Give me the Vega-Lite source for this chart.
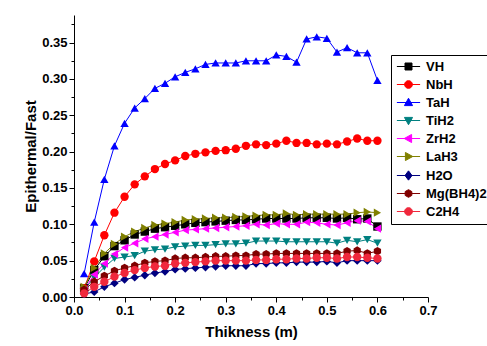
{
"$schema": "https://vega.github.io/schema/vega-lite/v6.json",
"width": 354, "height": 282,
"autosize": {"type": "none"},
"padding": {"left": 74, "top": 15, "right": 59, "bottom": 49},
"background": "white",
"config": {"view": {"stroke": null}, "font": "Liberation Sans"},
"data": {"values": [
{"m":"VH","t":0.02,"r":0.012},{"m":"VH","t":0.04,"r":0.037},{"m":"VH","t":0.06,"r":0.056},{"m":"VH","t":0.08,"r":0.070},{"m":"VH","t":0.10,"r":0.078},{"m":"VH","t":0.12,"r":0.086},{"m":"VH","t":0.14,"r":0.090},{"m":"VH","t":0.16,"r":0.094},{"m":"VH","t":0.18,"r":0.096},{"m":"VH","t":0.20,"r":0.098},{"m":"VH","t":0.22,"r":0.100},{"m":"VH","t":0.24,"r":0.102},{"m":"VH","t":0.26,"r":0.103},{"m":"VH","t":0.28,"r":0.104},{"m":"VH","t":0.30,"r":0.105},{"m":"VH","t":0.32,"r":0.106},{"m":"VH","t":0.34,"r":0.106},{"m":"VH","t":0.36,"r":0.107},{"m":"VH","t":0.38,"r":0.108},{"m":"VH","t":0.40,"r":0.108},{"m":"VH","t":0.42,"r":0.108},{"m":"VH","t":0.44,"r":0.108},{"m":"VH","t":0.46,"r":0.109},{"m":"VH","t":0.48,"r":0.109},{"m":"VH","t":0.50,"r":0.109},{"m":"VH","t":0.52,"r":0.108},{"m":"VH","t":0.54,"r":0.109},{"m":"VH","t":0.56,"r":0.107},{"m":"VH","t":0.58,"r":0.108},{"m":"VH","t":0.60,"r":0.097},
{"m":"NbH","t":0.02,"r":0.012},{"m":"NbH","t":0.04,"r":0.049},{"m":"NbH","t":0.06,"r":0.085},{"m":"NbH","t":0.08,"r":0.116},{"m":"NbH","t":0.10,"r":0.138},{"m":"NbH","t":0.12,"r":0.155},{"m":"NbH","t":0.14,"r":0.166},{"m":"NbH","t":0.16,"r":0.176},{"m":"NbH","t":0.18,"r":0.183},{"m":"NbH","t":0.20,"r":0.188},{"m":"NbH","t":0.22,"r":0.194},{"m":"NbH","t":0.24,"r":0.197},{"m":"NbH","t":0.26,"r":0.199},{"m":"NbH","t":0.28,"r":0.201},{"m":"NbH","t":0.30,"r":0.202},{"m":"NbH","t":0.32,"r":0.204},{"m":"NbH","t":0.34,"r":0.208},{"m":"NbH","t":0.36,"r":0.210},{"m":"NbH","t":0.38,"r":0.209},{"m":"NbH","t":0.40,"r":0.211},{"m":"NbH","t":0.42,"r":0.215},{"m":"NbH","t":0.44,"r":0.212},{"m":"NbH","t":0.46,"r":0.212},{"m":"NbH","t":0.48,"r":0.210},{"m":"NbH","t":0.50,"r":0.211},{"m":"NbH","t":0.52,"r":0.210},{"m":"NbH","t":0.54,"r":0.214},{"m":"NbH","t":0.56,"r":0.218},{"m":"NbH","t":0.58,"r":0.215},{"m":"NbH","t":0.60,"r":0.215},
{"m":"TaH","t":0.02,"r":0.032},{"m":"TaH","t":0.04,"r":0.103},{"m":"TaH","t":0.06,"r":0.162},{"m":"TaH","t":0.08,"r":0.208},{"m":"TaH","t":0.10,"r":0.239},{"m":"TaH","t":0.12,"r":0.260},{"m":"TaH","t":0.14,"r":0.273},{"m":"TaH","t":0.16,"r":0.287},{"m":"TaH","t":0.18,"r":0.294},{"m":"TaH","t":0.20,"r":0.303},{"m":"TaH","t":0.22,"r":0.309},{"m":"TaH","t":0.24,"r":0.314},{"m":"TaH","t":0.26,"r":0.320},{"m":"TaH","t":0.28,"r":0.322},{"m":"TaH","t":0.30,"r":0.322},{"m":"TaH","t":0.32,"r":0.322},{"m":"TaH","t":0.34,"r":0.325},{"m":"TaH","t":0.36,"r":0.325},{"m":"TaH","t":0.38,"r":0.325},{"m":"TaH","t":0.40,"r":0.333},{"m":"TaH","t":0.42,"r":0.331},{"m":"TaH","t":0.44,"r":0.323},{"m":"TaH","t":0.46,"r":0.355},{"m":"TaH","t":0.48,"r":0.358},{"m":"TaH","t":0.50,"r":0.356},{"m":"TaH","t":0.52,"r":0.337},{"m":"TaH","t":0.54,"r":0.343},{"m":"TaH","t":0.56,"r":0.336},{"m":"TaH","t":0.58,"r":0.336},{"m":"TaH","t":0.60,"r":0.298},
{"m":"TiH2","t":0.02,"r":0.010},{"m":"TiH2","t":0.04,"r":0.027},{"m":"TiH2","t":0.06,"r":0.041},{"m":"TiH2","t":0.08,"r":0.053},{"m":"TiH2","t":0.10,"r":0.055},{"m":"TiH2","t":0.12,"r":0.057},{"m":"TiH2","t":0.14,"r":0.063},{"m":"TiH2","t":0.16,"r":0.065},{"m":"TiH2","t":0.18,"r":0.066},{"m":"TiH2","t":0.20,"r":0.069},{"m":"TiH2","t":0.22,"r":0.070},{"m":"TiH2","t":0.24,"r":0.071},{"m":"TiH2","t":0.26,"r":0.071},{"m":"TiH2","t":0.28,"r":0.072},{"m":"TiH2","t":0.30,"r":0.073},{"m":"TiH2","t":0.32,"r":0.073},{"m":"TiH2","t":0.34,"r":0.074},{"m":"TiH2","t":0.36,"r":0.077},{"m":"TiH2","t":0.38,"r":0.077},{"m":"TiH2","t":0.40,"r":0.077},{"m":"TiH2","t":0.42,"r":0.076},{"m":"TiH2","t":0.44,"r":0.076},{"m":"TiH2","t":0.46,"r":0.076},{"m":"TiH2","t":0.48,"r":0.076},{"m":"TiH2","t":0.50,"r":0.076},{"m":"TiH2","t":0.52,"r":0.074},{"m":"TiH2","t":0.54,"r":0.078},{"m":"TiH2","t":0.56,"r":0.076},{"m":"TiH2","t":0.58,"r":0.079},{"m":"TiH2","t":0.60,"r":0.074},
{"m":"ZrH2","t":0.02,"r":0.010},{"m":"ZrH2","t":0.04,"r":0.031},{"m":"ZrH2","t":0.06,"r":0.046},{"m":"ZrH2","t":0.08,"r":0.059},{"m":"ZrH2","t":0.10,"r":0.068},{"m":"ZrH2","t":0.12,"r":0.074},{"m":"ZrH2","t":0.14,"r":0.080},{"m":"ZrH2","t":0.16,"r":0.083},{"m":"ZrH2","t":0.18,"r":0.086},{"m":"ZrH2","t":0.20,"r":0.089},{"m":"ZrH2","t":0.22,"r":0.092},{"m":"ZrH2","t":0.24,"r":0.093},{"m":"ZrH2","t":0.26,"r":0.094},{"m":"ZrH2","t":0.28,"r":0.095},{"m":"ZrH2","t":0.30,"r":0.096},{"m":"ZrH2","t":0.32,"r":0.097},{"m":"ZrH2","t":0.34,"r":0.098},{"m":"ZrH2","t":0.36,"r":0.100},{"m":"ZrH2","t":0.38,"r":0.099},{"m":"ZrH2","t":0.40,"r":0.101},{"m":"ZrH2","t":0.42,"r":0.100},{"m":"ZrH2","t":0.44,"r":0.100},{"m":"ZrH2","t":0.46,"r":0.103},{"m":"ZrH2","t":0.48,"r":0.102},{"m":"ZrH2","t":0.50,"r":0.100},{"m":"ZrH2","t":0.52,"r":0.099},{"m":"ZrH2","t":0.54,"r":0.102},{"m":"ZrH2","t":0.56,"r":0.105},{"m":"ZrH2","t":0.58,"r":0.104},{"m":"ZrH2","t":0.60,"r":0.094},
{"m":"LaH3","t":0.02,"r":0.014},{"m":"LaH3","t":0.04,"r":0.040},{"m":"LaH3","t":0.06,"r":0.060},{"m":"LaH3","t":0.08,"r":0.073},{"m":"LaH3","t":0.10,"r":0.083},{"m":"LaH3","t":0.12,"r":0.090},{"m":"LaH3","t":0.14,"r":0.095},{"m":"LaH3","t":0.16,"r":0.099},{"m":"LaH3","t":0.18,"r":0.101},{"m":"LaH3","t":0.20,"r":0.103},{"m":"LaH3","t":0.22,"r":0.106},{"m":"LaH3","t":0.24,"r":0.107},{"m":"LaH3","t":0.26,"r":0.108},{"m":"LaH3","t":0.28,"r":0.109},{"m":"LaH3","t":0.30,"r":0.109},{"m":"LaH3","t":0.32,"r":0.110},{"m":"LaH3","t":0.34,"r":0.111},{"m":"LaH3","t":0.36,"r":0.112},{"m":"LaH3","t":0.38,"r":0.113},{"m":"LaH3","t":0.40,"r":0.113},{"m":"LaH3","t":0.42,"r":0.115},{"m":"LaH3","t":0.44,"r":0.113},{"m":"LaH3","t":0.46,"r":0.114},{"m":"LaH3","t":0.48,"r":0.114},{"m":"LaH3","t":0.50,"r":0.114},{"m":"LaH3","t":0.52,"r":0.114},{"m":"LaH3","t":0.54,"r":0.114},{"m":"LaH3","t":0.56,"r":0.116},{"m":"LaH3","t":0.58,"r":0.117},{"m":"LaH3","t":0.60,"r":0.116},
{"m":"H2O","t":0.02,"r":0.004},{"m":"H2O","t":0.04,"r":0.007},{"m":"H2O","t":0.06,"r":0.014},{"m":"H2O","t":0.08,"r":0.019},{"m":"H2O","t":0.10,"r":0.024},{"m":"H2O","t":0.12,"r":0.027},{"m":"H2O","t":0.14,"r":0.030},{"m":"H2O","t":0.16,"r":0.033},{"m":"H2O","t":0.18,"r":0.035},{"m":"H2O","t":0.20,"r":0.038},{"m":"H2O","t":0.22,"r":0.039},{"m":"H2O","t":0.24,"r":0.040},{"m":"H2O","t":0.26,"r":0.041},{"m":"H2O","t":0.28,"r":0.042},{"m":"H2O","t":0.30,"r":0.043},{"m":"H2O","t":0.32,"r":0.043},{"m":"H2O","t":0.34,"r":0.043},{"m":"H2O","t":0.36,"r":0.046},{"m":"H2O","t":0.38,"r":0.046},{"m":"H2O","t":0.40,"r":0.047},{"m":"H2O","t":0.42,"r":0.047},{"m":"H2O","t":0.44,"r":0.048},{"m":"H2O","t":0.46,"r":0.048},{"m":"H2O","t":0.48,"r":0.048},{"m":"H2O","t":0.50,"r":0.049},{"m":"H2O","t":0.52,"r":0.047},{"m":"H2O","t":0.54,"r":0.050},{"m":"H2O","t":0.56,"r":0.050},{"m":"H2O","t":0.58,"r":0.050},{"m":"H2O","t":0.60,"r":0.050},
{"m":"Mg(BH4)2","t":0.02,"r":0.010},{"m":"Mg(BH4)2","t":0.04,"r":0.021},{"m":"Mg(BH4)2","t":0.06,"r":0.029},{"m":"Mg(BH4)2","t":0.08,"r":0.036},{"m":"Mg(BH4)2","t":0.10,"r":0.040},{"m":"Mg(BH4)2","t":0.12,"r":0.043},{"m":"Mg(BH4)2","t":0.14,"r":0.047},{"m":"Mg(BH4)2","t":0.16,"r":0.049},{"m":"Mg(BH4)2","t":0.18,"r":0.050},{"m":"Mg(BH4)2","t":0.20,"r":0.053},{"m":"Mg(BH4)2","t":0.22,"r":0.054},{"m":"Mg(BH4)2","t":0.24,"r":0.054},{"m":"Mg(BH4)2","t":0.26,"r":0.055},{"m":"Mg(BH4)2","t":0.28,"r":0.056},{"m":"Mg(BH4)2","t":0.30,"r":0.056},{"m":"Mg(BH4)2","t":0.32,"r":0.057},{"m":"Mg(BH4)2","t":0.34,"r":0.057},{"m":"Mg(BH4)2","t":0.36,"r":0.059},{"m":"Mg(BH4)2","t":0.38,"r":0.059},{"m":"Mg(BH4)2","t":0.40,"r":0.060},{"m":"Mg(BH4)2","t":0.42,"r":0.060},{"m":"Mg(BH4)2","t":0.44,"r":0.060},{"m":"Mg(BH4)2","t":0.46,"r":0.060},{"m":"Mg(BH4)2","t":0.48,"r":0.060},{"m":"Mg(BH4)2","t":0.50,"r":0.060},{"m":"Mg(BH4)2","t":0.52,"r":0.060},{"m":"Mg(BH4)2","t":0.54,"r":0.063},{"m":"Mg(BH4)2","t":0.56,"r":0.064},{"m":"Mg(BH4)2","t":0.58,"r":0.060},{"m":"Mg(BH4)2","t":0.60,"r":0.063},
{"m":"C2H4","t":0.02,"r":0.005},{"m":"C2H4","t":0.04,"r":0.014},{"m":"C2H4","t":0.06,"r":0.021},{"m":"C2H4","t":0.08,"r":0.028},{"m":"C2H4","t":0.10,"r":0.033},{"m":"C2H4","t":0.12,"r":0.037},{"m":"C2H4","t":0.14,"r":0.040},{"m":"C2H4","t":0.16,"r":0.042},{"m":"C2H4","t":0.18,"r":0.043},{"m":"C2H4","t":0.20,"r":0.046},{"m":"C2H4","t":0.22,"r":0.047},{"m":"C2H4","t":0.24,"r":0.048},{"m":"C2H4","t":0.26,"r":0.049},{"m":"C2H4","t":0.28,"r":0.050},{"m":"C2H4","t":0.30,"r":0.050},{"m":"C2H4","t":0.32,"r":0.050},{"m":"C2H4","t":0.34,"r":0.050},{"m":"C2H4","t":0.36,"r":0.051},{"m":"C2H4","t":0.38,"r":0.051},{"m":"C2H4","t":0.40,"r":0.052},{"m":"C2H4","t":0.42,"r":0.052},{"m":"C2H4","t":0.44,"r":0.053},{"m":"C2H4","t":0.46,"r":0.053},{"m":"C2H4","t":0.48,"r":0.054},{"m":"C2H4","t":0.50,"r":0.054},{"m":"C2H4","t":0.52,"r":0.053},{"m":"C2H4","t":0.54,"r":0.055},{"m":"C2H4","t":0.56,"r":0.055},{"m":"C2H4","t":0.58,"r":0.054},{"m":"C2H4","t":0.60,"r":0.053}
]},
"encoding": {
  "x": {"field": "t", "type": "quantitative",
    "scale": {"domain": [0, 0.7], "nice": false, "zero": false},
    "axis": {"title": "Thikness (m)", "grid": false,
      "values": [0,0.05,0.1,0.15,0.2,0.25,0.3,0.35,0.4,0.45,0.5,0.55,0.6,0.65,0.7],
      "labelExpr": "abs(datum.value*10 - round(datum.value*10)) < 0.001 ? format(datum.value, '.1f') : ''",
      "tickSize": {"condition": {"test": "abs(datum.value*10 - round(datum.value*10)) < 0.001", "value": 5}, "value": 3},
      "labelOverlap": false, "labelFlush": false,
      "domainColor": "black", "tickColor": "black", "domainWidth": 1, "tickWidth": 1,
      "labelFont": "Liberation Sans", "labelFontSize": 13, "labelFontWeight": "bold", "labelColor": "black", "labelPadding": 2,
      "titleFont": "Liberation Sans", "titleFontSize": 15, "titleFontWeight": "bold", "titleColor": "black", "titlePadding": 7}},
  "y": {"field": "r", "type": "quantitative",
    "scale": {"domain": [0, 0.388], "nice": false},
    "axis": {"title": "Epithermal/Fast", "grid": false,
      "values": [0,0.025,0.05,0.075,0.1,0.125,0.15,0.175,0.2,0.225,0.25,0.275,0.3,0.325,0.35,0.375],
      "labelExpr": "abs(datum.value*20 - round(datum.value*20)) < 0.001 ? format(datum.value, '.2f') : ''",
      "tickSize": {"condition": {"test": "abs(datum.value*20 - round(datum.value*20)) < 0.001", "value": 5}, "value": 3},
      "labelOverlap": false, "labelFlush": false,
      "domainColor": "black", "tickColor": "black", "domainWidth": 1, "tickWidth": 1,
      "labelFont": "Liberation Sans", "labelFontSize": 13, "labelFontWeight": "bold", "labelColor": "black", "labelPadding": 2,
      "titleFont": "Liberation Sans", "titleFontSize": 15, "titleFontWeight": "bold", "titleColor": "black", "titlePadding": 3}}
},
"resolve": {"scale": {"color": "independent", "shape": "independent", "stroke": "independent"},
            "legend": {"color": "independent", "shape": "independent", "stroke": "independent"}},
"layer": [
  {"mark": {"type": "line", "strokeWidth": 1},
   "encoding": {"color": {"field": "m", "type": "nominal", "legend": null,
     "scale": {"domain": ["VH","NbH","TaH","TiH2","ZrH2","LaH3","H2O","Mg(BH4)2","C2H4"],
               "range": ["#000000","#FF0000","#0000FF","#008080","#FF00FF","#808000","#000080","#800000","#F0283C"]}}}},
  {"mark": {"type": "point", "filled": true, "size": 70, "opacity": 1},
   "encoding": {
     "color": {"field": "m", "type": "nominal", "legend": null,
       "scale": {"domain": ["VH","NbH","TaH","TiH2","ZrH2","LaH3","H2O","Mg(BH4)2","C2H4"],
                 "range": ["#000000","#FF0000","#0000FF","#008080","#FF00FF","#808000","#000080","#800000","#F0283C"]}},
     "shape": {"field": "m", "type": "nominal", "legend": null,
       "scale": {"domain": ["VH","NbH","TaH","TiH2","ZrH2","LaH3","H2O","Mg(BH4)2","C2H4"],
                 "range": ["square","circle","triangle-up","triangle-down","triangle-left","triangle-right","diamond","M0,-1L0.866,-0.5L0.866,0.5L0,1L-0.866,0.5L-0.866,-0.5Z","circle"]}}}},
  {"mark": {"type": "point", "filled": true, "size": 60, "opacity": 0, "strokeWidth": 1},
   "encoding": {
     "color": {"field": "m", "type": "nominal",
       "scale": {"domain": ["VH","NbH","TaH","TiH2","ZrH2","LaH3","H2O","Mg(BH4)2","C2H4"],
                 "range": ["#000000","#FF0000","#0000FF","#008080","#FF00FF","#808000","#000080","#800000","#F0283C"]},
       "legend": {"title": null, "orient": "none", "legendX": 317, "legendY": 40,
         "strokeColor": "black", "fillColor": "white", "padding": 5,
         "labelFont": "Liberation Sans", "labelFontSize": 13, "labelFontWeight": "bold", "labelColor": "black",
         "symbolSize": 60, "symbolOffset": 6, "labelOffset": 11, "rowPadding": 4, "symbolOpacity": 1, "symbolStrokeWidth": 1}},
     "stroke": {"field": "m", "type": "nominal",
       "scale": {"domain": ["VH","NbH","TaH","TiH2","ZrH2","LaH3","H2O","Mg(BH4)2","C2H4"],
                 "range": ["#000000","#FF0000","#0000FF","#008080","#FF00FF","#808000","#000080","#800000","#F0283C"]},
       "legend": {"title": null, "orient": "none", "legendX": 317, "legendY": 40,
         "strokeColor": "black", "fillColor": "white", "padding": 5,
         "labelFont": "Liberation Sans", "labelFontSize": 13, "labelFontWeight": "bold", "labelColor": "black",
         "symbolSize": 60, "symbolOffset": 6, "labelOffset": 11, "rowPadding": 4, "symbolOpacity": 1, "symbolStrokeWidth": 1}},
     "shape": {"field": "m", "type": "nominal",
       "scale": {"domain": ["VH","NbH","TaH","TiH2","ZrH2","LaH3","H2O","Mg(BH4)2","C2H4"],
                 "range": ["M-3,0L3,0M-0.9,-0.9L0.9,-0.9L0.9,0.9L-0.9,0.9Z",
                           "M-3,0L3,0M-1,0A1,1,0,1,1,1,0A1,1,0,1,1,-1,0Z",
                           "M-3,0L3,0M0,-1.1L1.05,0.8L-1.05,0.8Z",
                           "M-3,0L3,0M0,1.1L1.05,-0.8L-1.05,-0.8Z",
                           "M-3,0L3,0M-1.1,0L0.8,-1.05L0.8,1.05Z",
                           "M-3,0L3,0M1.1,0L-0.8,-1.05L-0.8,1.05Z",
                           "M-3,0L3,0M0,-1.2L0.9,0L0,1.2L-0.9,0Z",
                           "M-3,0L3,0M0,-1L0.866,-0.5L0.866,0.5L0,1L-0.866,0.5L-0.866,-0.5Z",
                           "M-3,0L3,0M-1,0A1,1,0,1,1,1,0A1,1,0,1,1,-1,0Z"]},
       "legend": {"title": null, "orient": "none", "legendX": 317, "legendY": 40,
         "strokeColor": "black", "fillColor": "white", "padding": 5,
         "labelFont": "Liberation Sans", "labelFontSize": 13, "labelFontWeight": "bold", "labelColor": "black",
         "symbolSize": 60, "symbolOffset": 6, "labelOffset": 11, "rowPadding": 4, "symbolOpacity": 1, "symbolStrokeWidth": 1}}}}
]
}
